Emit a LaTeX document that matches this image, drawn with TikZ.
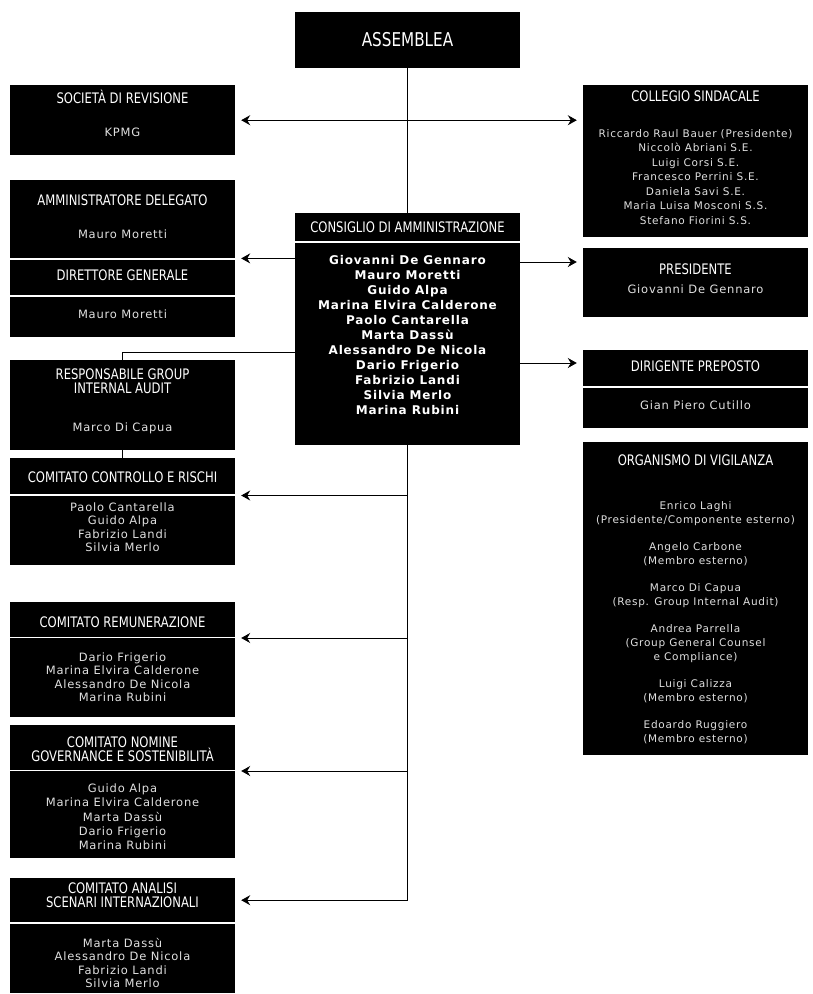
\documentclass[tikz,border=0pt]{standalone}
\usepackage{fontspec}
\usetikzlibrary{arrows.meta}
\newfontfamily\headfont[FakeStretch=0.8]{DejaVu Sans}
\newfontfamily\namefont[LetterSpace=7]{DejaVu Sans}

\begin{document}
\begin{tikzpicture}[x=1pt,y=-1pt,
        >={Stealth[length=9pt,width=10pt,inset=3pt]},
        blk/.style={fill=black, inner sep=0pt, minimum width=225pt, anchor=north},
        head/.style={text=white, inner sep=0pt, align=center, font=\headfont\fontsize{14.5}{14}\selectfont},
        names/.style={text=white!88!black, inner sep=0pt, align=center, font=\namefont\fontsize{11.5}{13.5}\selectfont},
        link/.style={line width=0.9pt},
        arr/.style={link, ->, shorten >=6pt}]
        \useasboundingbox[fill=white] (0,0) rectangle (812,994);

        \node[blk, minimum height=56pt] (asm) at (407.5,12) {};
        \node[head, font=\headfont\fontsize{19}{20}\selectfont] (asmt) at (407.5,40) {ASSEMBLEA};

        \node[blk, minimum height=28pt] (cdah) at (407.5,213) {};
        \node[head] (cdat) at (407.5,227) {CONSIGLIO DI AMMINISTRAZIONE};
        \node[blk, minimum height=202.5pt] (cdab) at (407.5,242.5) {};
        \node[names, text=white, font=\namefont\bfseries\fontsize{12}{15}\selectfont] (cdan) at (407.5,335)
            {Giovanni De Gennaro\\Mauro Moretti\\Guido Alpa\\Marina Elvira Calderone\\Paolo Cantarella\\Marta Dassù\\Alessandro De Nicola\\Dario Frigerio\\Fabrizio Landi\\Silvia Merlo\\Marina Rubini};

        \node[blk, minimum height=70pt] (soc) at (122.5,85) {};
        \node[head] (soct) at (122.5,97) {SOCIETÀ DI REVISIONE};
        \node[names] (socn) at (122.5,132) {KPMG};

        \node[blk, minimum height=78pt] (ammdel) at (122.5,180) {};
        \node[head] (ammdelt) at (122.5,200) {AMMINISTRATORE DELEGATO};
        \node[names] (ammdeln) at (122.5,234) {Mauro Moretti};

        \node[blk, minimum height=35.5pt] (dirgenh) at (122.5,259.5) {};
        \node[head] (dirgent) at (122.5,275) {DIRETTORE GENERALE};
        \node[blk, minimum height=40.5pt] (dirgenb) at (122.5,296.5) {};
        \node[names] (dirgenn) at (122.5,314) {Mauro Moretti};

        \node[blk, minimum height=90pt] (audit) at (122.5,360) {};
        \node[head] (auditt) at (122.5,381.5) {RESPONSABILE GROUP\\INTERNAL AUDIT};
        \node[names] (auditn) at (122.5,428) {Marco Di Capua};

        \node[blk, minimum height=36pt] (ctrlh) at (122.5,458) {};
        \node[head] (ctrlt) at (122.5,477) {COMITATO CONTROLLO E RISCHI};
        \node[blk, minimum height=69.5pt] (ctrlb) at (122.5,495.5) {};
        \node[names] (ctrln) at (122.5,527) {Paolo Cantarella\\Guido Alpa\\Fabrizio Landi\\Silvia Merlo};

        \node[blk, minimum height=34.5pt] (remh) at (122.5,602) {};
        \node[head] (remt) at (122.5,622) {COMITATO REMUNERAZIONE};
        \node[blk, minimum height=79pt] (remb) at (122.5,638) {};
        \node[names] (remn) at (122.5,677) {Dario Frigerio\\Marina Elvira Calderone\\Alessandro De Nicola\\Marina Rubini};

        \node[blk, minimum height=44.5pt] (nomh) at (122.5,725) {};
        \node[head] (nomt) at (122.5,749) {COMITATO NOMINE\\GOVERNANCE E SOSTENIBILITÀ};
        \node[blk, minimum height=87pt] (nomb) at (122.5,771) {};
        \node[names, font=\namefont\fontsize{11.5}{14.3}\selectfont] (nomn) at (122.5,817) {Guido Alpa\\Marina Elvira Calderone\\Marta Dassù\\Dario Frigerio\\Marina Rubini};

        \node[blk, minimum height=44pt] (anah) at (122.5,878) {};
        \node[head] (anat) at (122.5,895.5) {COMITATO ANALISI\\SCENARI INTERNAZIONALI};
        \node[blk, minimum height=69.5pt] (anab) at (122.5,923.5) {};
        \node[names] (anan) at (122.5,963) {Marta Dassù\\Alessandro De Nicola\\Fabrizio Landi\\Silvia Merlo};

        \node[blk, minimum height=152pt] (coll) at (695.5,85) {};
        \node[head] (collt) at (695.5,96) {COLLEGIO SINDACALE};
        \node[names, font=\namefont\fontsize{10.5}{14.5}\selectfont] (colln) at (695.5,177)
            {Riccardo Raul Bauer (Presidente)\\Niccolò Abriani S.E.\\Luigi Corsi S.E.\\Francesco Perrini S.E.\\Daniela Savi S.E.\\Maria Luisa Mosconi S.S.\\Stefano Fiorini S.S.};

        \node[blk, minimum height=69pt] (pres) at (695.5,248) {};
        \node[head] (prest) at (695.5,269) {PRESIDENTE};
        \node[names] (presn) at (695.5,289) {Giovanni De Gennaro};

        \node[blk, minimum height=36pt] (dirh) at (695.5,350) {};
        \node[head] (dirt) at (695.5,366) {DIRIGENTE PREPOSTO};
        \node[blk, minimum height=40.5pt] (dirb) at (695.5,387.5) {};
        \node[names] (dirn) at (695.5,405) {Gian Piero Cutillo};

        \node[blk, minimum height=313pt] (odv) at (695.5,442) {};
        \node[head] (odvt) at (695.5,460) {ORGANISMO DI VIGILANZA};
        \node[names, font=\namefont\fontsize{10.5}{14}\selectfont] (odvn) at (695.5,623)
            {Enrico Laghi\\(Presidente/Componente esterno)\\[13pt]
             Angelo Carbone\\(Membro esterno)\\[13pt]
             Marco Di Capua\\(Resp. Group Internal Audit)\\[13pt]
             Andrea Parrella\\(Group General Counsel\\e Compliance)\\[13pt]
             Luigi Calizza\\(Membro esterno)\\[13pt]
             Edoardo Ruggiero\\(Membro esterno)};

        \coordinate (presj) at ([yshift=-14pt]pres.north west);
        \coordinate (dirj) at ([yshift=-13pt]dirh.north west);
        \coordinate (audj) at ([yshift=8pt]audit.north);

        \draw[link] (asm.south) -- (cdah.north);
        \draw[link] (cdab.south) -- (cdab.south |- anah.east);
        \draw[arr, <->, shorten <=6pt] (soc.east) -- (soc.east -| coll.west);
        \draw[arr] (cdab.west |- ammdel.south) -- (ammdel.south east);
        \draw[arr] (cdab.east |- presj) -- (presj);
        \draw[arr] (cdab.east |- dirj) -- (dirj);
        \draw[link] (audit.north) -- (audj) -- (audj -| cdab.west);
        \draw[link] (audit.south) -- (ctrlh.north);
        \draw[arr] (cdab.south |- ctrlb.north east) -- (ctrlb.north east);
        \draw[arr] (cdab.south |- remb.north east) -- (remb.north east);
        \draw[arr] (cdab.south |- nomb.north east) -- (nomb.north east);
        \draw[arr] (cdab.south |- anah.east) -- (anah.east);
    \end{tikzpicture}
\end{document}
